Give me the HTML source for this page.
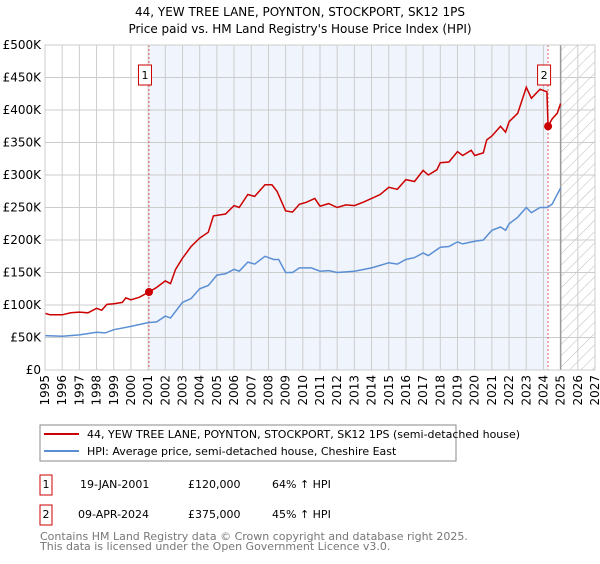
<!DOCTYPE html>
<html><head><meta charset="utf-8"><style>
body{margin:0;background:#fff;font-family:"DejaVu Sans","Liberation Sans",sans-serif;}
svg text{font-family:"DejaVu Sans","Liberation Sans",sans-serif;}
</style></head><body>
<svg id="c" width="600" height="560" xmlns="http://www.w3.org/2000/svg">
<defs><pattern id="hatch" width="8" height="8" patternUnits="userSpaceOnUse" patternTransform="rotate(45)"><line x1="0" y1="0" x2="0" y2="8" stroke="#bbb" stroke-width="1"/></pattern></defs>
<text x="300" y="16" text-anchor="middle" font-size="12">44, YEW TREE LANE, POYNTON, STOCKPORT, SK12 1PS</text>
<text x="300" y="33" text-anchor="middle" font-size="12">Price paid vs. HM Land Registry's House Price Index (HPI)</text>
<g id="plot"></g>
<rect x="40" y="425" width="416" height="36" fill="#fff" stroke="#888"/>
<line x1="44" y1="434" x2="79" y2="434" stroke="#cc0000" stroke-width="2"/>
<text x="87" y="438" font-size="11">44, YEW TREE LANE, POYNTON, STOCKPORT, SK12 1PS (semi-detached house)</text>
<line x1="44" y1="451" x2="79" y2="451" stroke="#5b8fd4" stroke-width="2"/>
<text x="87" y="455" font-size="11">HPI: Average price, semi-detached house, Cheshire East</text>
<rect x="40" y="475" width="12" height="20" fill="#fff" stroke="#cc0000"/>
<text x="46" y="488" font-size="11" text-anchor="middle">1</text>
<text x="80" y="488" font-size="11">19-JAN-2001</text>
<text x="188" y="488" font-size="11">£120,000</text>
<text x="272" y="488" font-size="11">64% ↑ HPI</text>
<rect x="40" y="505" width="12" height="20" fill="#fff" stroke="#cc0000"/>
<text x="46" y="518" font-size="11" text-anchor="middle">2</text>
<text x="78" y="518" font-size="11">09-APR-2024</text>
<text x="188" y="518" font-size="11">£375,000</text>
<text x="272" y="518" font-size="11">45% ↑ HPI</text>
<text x="40" y="540" font-size="11" fill="#777">Contains HM Land Registry data © Crown copyright and database right 2025.</text>
<text x="40" y="550" font-size="11" fill="#777">This data is licensed under the Open Government Licence v3.0.</text>
</svg>
<script>
const yTicks=[0,50,100,150,200,250,300,350,400,450,500];
const yTickLabels=["£0","£50K","£100K","£150K","£200K","£250K","£300K","£350K","£400K","£450K","£500K"];
const xYears=[1995,1996,1997,1998,1999,2000,2001,2002,2003,2004,2005,2006,2007,2008,2009,2010,2011,2012,2013,2014,2015,2016,2017,2018,2019,2020,2021,2022,2023,2024,2025,2026,2027];
const redT=[1995,1995.3,1996,1996.5,1997,1997.5,1998,1998.3,1998.6,1999,1999.5,1999.7,2000,2000.5,2001.05,2001.5,2002,2002.3,2002.6,2003,2003.5,2004,2004.5,2004.8,2005.5,2006,2006.3,2006.8,2007.2,2007.8,2008.2,2008.5,2009,2009.4,2009.8,2010.2,2010.7,2011,2011.5,2012,2012.5,2013,2013.5,2014,2014.5,2015,2015.5,2016,2016.5,2017,2017.3,2017.8,2018,2018.5,2019,2019.3,2019.8,2020,2020.5,2020.7,2021,2021.5,2021.8,2022,2022.5,2023,2023.3,2023.8,2024.2,2024.27,2024.5,2024.8,2025];
const redV=[87,85,85,88,89,88,95,92,101,102,104,111,108,112,120,127,137,133,155,172,190,203,212,237,240,253,250,270,267,285,285,275,245,243,255,258,264,252,256,250,254,253,258,264,270,281,278,293,290,307,300,308,319,320,336,330,338,330,334,354,360,375,366,382,395,435,418,432,428,375,386,395,410];
const blueT=[1995,1996,1997,1998,1998.5,1999,2000,2001,2001.5,2002,2002.3,2003,2003.5,2004,2004.5,2005,2005.5,2006,2006.3,2006.8,2007.2,2007.8,2008.3,2008.6,2009,2009.4,2009.8,2010.5,2011,2011.5,2012,2013,2014,2015,2015.5,2016,2016.5,2017,2017.3,2018,2018.5,2019,2019.3,2020,2020.5,2021,2021.5,2021.8,2022,2022.5,2023,2023.3,2023.8,2024.2,2024.5,2025];
const blueV=[53,52,54,58,57,62,67,73,74,83,80,104,110,125,130,146,148,155,152,166,163,175,170,170,150,150,157,157,152,153,150,152,157,165,163,170,173,180,176,189,190,197,194,198,200,215,220,215,225,235,250,242,250,250,255,280];
const sales=[{t:2001.05,v:120,n:"1"},{t:2024.27,v:375,n:"2"}];
const X0=45,X1=595,Y0=370,Y1=45;
const xs=t=>X0+(t-1995)*(X1-X0)/32;
const ys=v=>Y0-v*(Y0-Y1)/500;
const NS="http://www.w3.org/2000/svg";
const g=document.getElementById('plot');
function mk(tag,at,parent){const e=document.createElementNS(NS,tag);for(const k in at)e.setAttribute(k,at[k]);(parent||g).appendChild(e);return e;}
let e;
e=mk('rect',{x:xs(2001.05),y:Y1,width:xs(2024.27)-xs(2001.05),height:Y0-Y1,fill:'#f0f4fc'});


e=mk('rect',{x:xs(2025),y:Y1,width:X1-xs(2025),height:Y0-Y1,fill:'url(#hatch)'});


xYears.forEach(y=>{e=mk('line',{x1:xs(y),x2:xs(y),y1:Y1,y2:Y0,stroke:'#ccc','stroke-width':1});


const tx=mk('text',{x:0,y:0,'font-size':12,'text-anchor':'end',transform:`translate(${xs(y)+4},${Y0+5}) rotate(-90)`});tx.textContent=y;

});
yTicks.forEach((v,i)=>{e=mk('line',{x1:X0,x2:X1,y1:ys(v),y2:ys(v),stroke:'#ccc','stroke-width':1});


const tx=mk('text',{x:X0-4,y:ys(v)+4,'font-size':12,'text-anchor':'end'});tx.textContent=yTickLabels[i];

});
e=mk('line',{x1:xs(2025),x2:xs(2025),y1:Y1,y2:Y0,stroke:'#999','stroke-width':1.5});


sales.forEach(s=>{e=mk('line',{x1:xs(s.t),x2:xs(s.t),y1:Y1,y2:Y0,stroke:'#e06060','stroke-width':1,'stroke-dasharray':'2,2'});

});
e=mk('path',{d:blueT.map((t,i)=>(i?'L':'M')+xs(t).toFixed(1)+','+ys(blueV[i]).toFixed(1)).join(''),fill:'none',stroke:'#5b8fd4','stroke-width':1.5});


e=mk('path',{d:redT.map((t,i)=>(i?'L':'M')+xs(t).toFixed(1)+','+ys(redV[i]).toFixed(1)).join(''),fill:'none',stroke:'#cc0000','stroke-width':1.5});


sales.forEach(s=>{e=mk('circle',{cx:xs(s.t),cy:ys(s.v),r:4,fill:'#cc0000'});


const bx=xs(s.t)-4;
e=mk('rect',{x:bx-6.5,y:65,width:13,height:20,fill:'#fff',stroke:'#cc0000'});


const tx=mk('text',{x:bx,y:79,'font-size':11,'text-anchor':'middle'});tx.textContent=s.n;

});
e=mk('rect',{x:X0,y:Y1,width:X1-X0,height:Y0-Y1,fill:'none',stroke:'#ccc'});


</script>
</body></html>
